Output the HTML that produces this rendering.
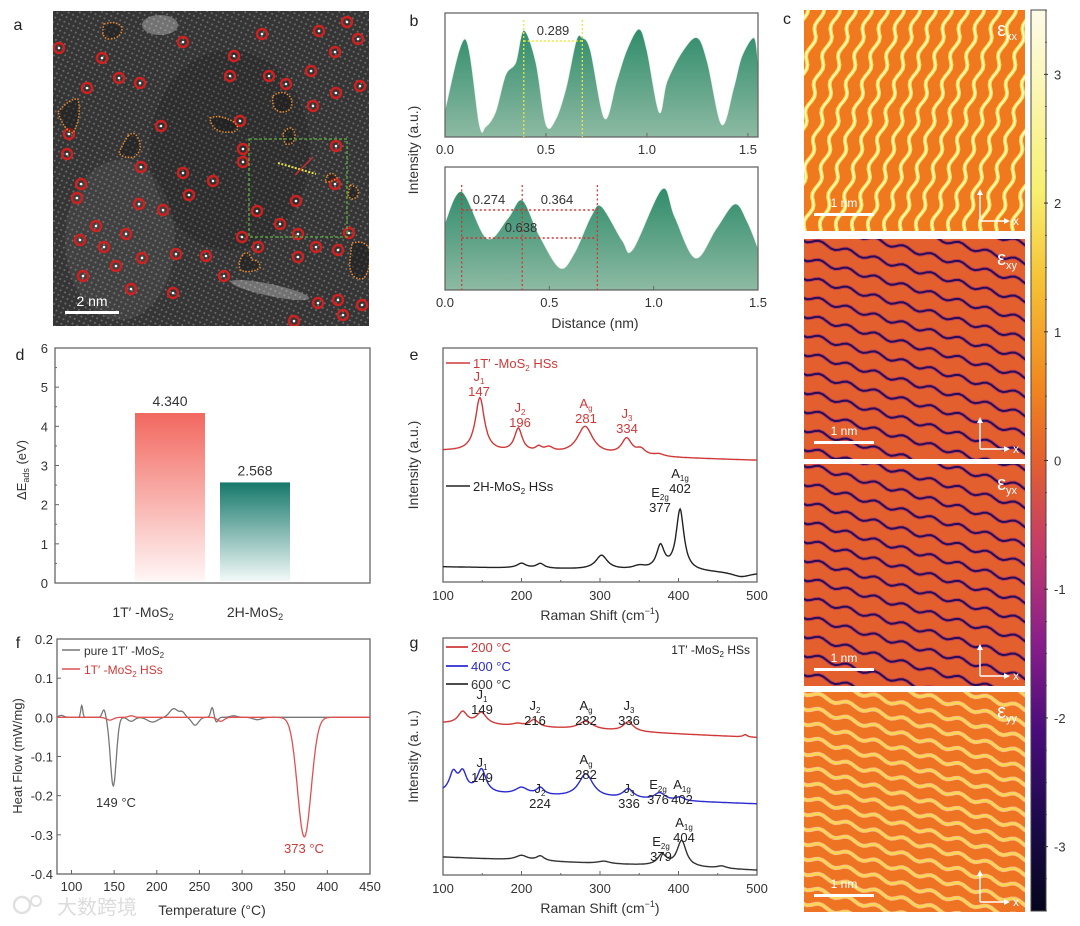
<!DOCTYPE html>
<html><head><meta charset="utf-8">
<style>
html,body{margin:0;padding:0;background:#fff;overflow:hidden;width:1080px;height:926px;}
svg{display:block;font-family:"Liberation Sans","Noto Sans CJK SC",sans-serif;}
</style></head>
<body>
<svg id="fig" width="1080" height="926" viewBox="0 0 1080 926" xmlns="http://www.w3.org/2000/svg">
<defs>
  <linearGradient id="gGreen" x1="0" y1="0" x2="0" y2="1">
    <stop offset="0" stop-color="#2f8c6b"/><stop offset="1" stop-color="#8dbaa3"/>
  </linearGradient>
  <linearGradient id="gRed" x1="0" y1="0" x2="0" y2="1">
    <stop offset="0" stop-color="#f2685f"/><stop offset="1" stop-color="#fff6f6"/>
  </linearGradient>
  <linearGradient id="gTeal" x1="0" y1="0" x2="0" y2="1">
    <stop offset="0" stop-color="#16786a"/><stop offset="1" stop-color="#f2f9f8"/>
  </linearGradient>
  <linearGradient id="gCbar" x1="0" y1="0" x2="0" y2="1">
    <stop offset="0" stop-color="#fdfbe8"/>
    <stop offset="0.2" stop-color="#f8f070"/>
    <stop offset="0.3" stop-color="#f6c235"/>
    <stop offset="0.42" stop-color="#f1851f"/>
    <stop offset="0.5" stop-color="#e4602e"/>
    <stop offset="0.6" stop-color="#c23a6c"/>
    <stop offset="0.7" stop-color="#8a1e8a"/>
    <stop offset="0.8" stop-color="#4a0c7c"/>
    <stop offset="0.9" stop-color="#1c0a4c"/>
    <stop offset="1" stop-color="#05051c"/>
  </linearGradient>
  <pattern id="dots" width="5" height="5" patternUnits="userSpaceOnUse" patternTransform="rotate(25)">
    <rect width="5" height="5" fill="#353535"/>
    <circle cx="2.5" cy="2.5" r="1" fill="#6c6c6c"/>
  </pattern>
  <clipPath id="clipA"><rect x="53" y="11" width="316" height="315"/></clipPath>
  <clipPath id="c1"><rect x="804" y="10" width="221" height="221"/></clipPath>
  <clipPath id="c2"><rect x="804" y="239" width="221" height="220"/></clipPath>
  <clipPath id="c3"><rect x="804" y="464" width="221" height="222"/></clipPath>
  <clipPath id="c4"><rect x="804" y="692" width="221" height="220"/></clipPath>
</defs>
<g id="root"></g>
</svg>
<script>
// ---------------- DATA ----------------
// panel b
var bTopX = [0,0.1,0.17,0.2,0.25,0.3,0.35,0.39,0.45,0.5,0.55,0.6,0.65,0.68,0.72,0.79,0.85,0.9,0.96,1.0,1.06,1.1,1.18,1.25,1.3,1.37,1.43,1.47,1.53,1.55];
var bTopY = [0.22,0.79,0.1,0.08,0.2,0.5,0.6,0.86,0.6,0.1,0.15,0.4,0.78,0.8,0.7,0.15,0.45,0.7,0.87,0.7,0.2,0.45,0.7,0.8,0.6,0.1,0.4,0.65,0.8,0.6];
var bBotX = [0,0.08,0.2,0.3,0.37,0.45,0.55,0.62,0.7,0.75,0.85,0.9,1.04,1.1,1.2,1.3,1.39,1.45,1.5];
var bBotY = [0.55,0.80,0.42,0.58,0.73,0.45,0.18,0.3,0.6,0.68,0.4,0.33,0.82,0.6,0.26,0.5,0.7,0.55,0.34];
var bTopTicks = [0,0.5,1.0,1.5];
var bTopTickLabels = ["0.0","0.5","1.0","1.5"];
var bBotTicks = [0,0.5,1.0,1.5];
// panel d
var dCats = ["1T\u2032 -MoS2","2H-MoS2"];
var dVals = [4.340,2.568];
var dTicks = [0,1,2,3,4,5,6];
// panel e  (peak positions, amplitudes, widths)
var eRedPos = [147,196,222,235,281,334,352,375];
var eRedAmp = [0.23,0.10,0.02,0.02,0.12,0.07,0.025,0.01];
var eRedWid = [7,6,5,7,12,8,7,8];
var eRedBase = [0.56,0.52];
var eBlkPos = [200,224,302,350,377,402,480];
var eBlkAmp = [0.02,0.02,0.06,0.015,0.10,0.26,-0.02];
var eBlkWid = [7,6,9,10,6,6,15];
var eBlkBase = [0.065,0.04];
// panel g
var gRedPos = [125,149,195,216,282,336,485];
var gRedAmp = [0.05,0.05,0.01,0.03,0.035,0.04,0.01];
var gRedWid = [7,8,8,7,11,8,3];
var gRedBase = [0.64,0.58];
var gBluPos = [113,125,149,200,224,282,336,376,402];
var gBluAmp = [0.08,0.08,0.10,0.03,0.03,0.10,0.04,0.03,0.015];
var gBluWid = [6,6,7,10,6,11,8,8,6];
var gBluBase = [0.346,0.30];
var gBlkPos = [200,224,305,379,404,455];
var gBlkAmp = [0.02,0.02,0.01,0.045,0.11,0.01];
var gBlkWid = [9,6,9,7,7,7];
var gBlkBase = [0.076,0.02];
var ramanTicks = [100,200,300,400,500];
// panel f (gaussian features)
var fGrayPos = [88,112,138,149,170,195,220,230,245,265,270,290,318];
var fGrayAmp = [0.005,0.03,0.02,-0.175,-0.01,-0.012,0.022,0.012,-0.02,0.025,-0.012,0.004,-0.006];
var fGrayWid = [3,1.2,2,3.5,4,6,5,3,4,1.8,2,4,5];
var fRedPos = [145,170,275,373];
var fRedAmp = [-0.007,0.004,-0.01,-0.305];
var fRedWid = [4,3,4,8];
var fXTicks = [100,150,200,250,300,350,400,450];
var fYTicks = [0.2,0.1,0.0,-0.1,-0.2,-0.3,-0.4];
var fYTickLabels = ["0.2","0.1","0.0","-0.1","-0.2","-0.3","-0.4"];
// colorbar
var cbTicks = [3,2,1,0,-1,-2,-3];

// ---------------- HELPERS ----------------
var NS="http://www.w3.org/2000/svg";
var root=document.getElementById('root');
function mk(tag,attrs,parent,text){var e=document.createElementNS(NS,tag);for(var k in attrs)e.setAttribute(k,attrs[k]);if(text!==undefined)e.textContent=text;(parent||root).appendChild(e);return e;}
function lin(d0,d1,r0,r1){return function(v){return r0+(v-d0)/(d1-d0)*(r1-r0);};}
function grp(name){var g=mk('g',{});return g;}
function txt(g,x,y,s,opt){opt=opt||{};var t=mk('text',{x:x,y:y,'font-size':opt.fs||13,fill:opt.fill||'#333','text-anchor':opt.anchor||'middle'},g,s);if(opt.tr)t.setAttribute('transform',opt.tr);return t;}
function box(g,x,y,w,h){var r=mk('rect',{x:x,y:y,width:w,height:h,fill:'none',stroke:'#666','stroke-width':1.3},g);}
function spec(pos,amp,wid,base,x){var b=base[0]+(base[1]-base[0])*(x-100)/400;for(var i=0;i<pos.length;i++){var d=(x-pos[i])/wid[i];b+=amp[i]/(1+d*d);}return b;}
function gsum(pos,amp,wid,x){var b=0;for(var i=0;i<pos.length;i++){var d=(x-pos[i])/wid[i];b+=amp[i]*Math.exp(-0.5*d*d);}return b;}
function panelLetter(x,y,s){txt(root,x,y,s,{fs:16,fill:'#222',name:'panel-label-'+s});}
function smoothPath(pts){ // catmull-rom
  var d='M'+pts[0][0].toFixed(1)+','+pts[0][1].toFixed(1);
  for(var i=0;i<pts.length-1;i++){
    var p0=pts[i-1]||pts[i],p1=pts[i],p2=pts[i+1],p3=pts[i+2]||p2;
    var c1x=p1[0]+(p2[0]-p0[0])/6,c1y=p1[1]+(p2[1]-p0[1])/6,c2x=p2[0]-(p3[0]-p1[0])/6,c2y=p2[1]-(p3[1]-p1[1])/6;
    d+=' C'+c1x.toFixed(1)+','+c1y.toFixed(1)+' '+c2x.toFixed(1)+','+c2y.toFixed(1)+' '+p2[0].toFixed(1)+','+p2[1].toFixed(1);
  }
  return d;
}

// ---------------- PANEL A ----------------
(function(){
var g=grp('panel-a-micrograph');
mk('rect',{x:53,y:11,width:316,height:315,fill:'url(#dots)'},g);
var shade=mk('g',{'clip-path':'url(#clipA)'},g);
mk('ellipse',{cx:120,cy:240,rx:55,ry:80,fill:'#9a9a9a',opacity:0.12},shade);
mk('ellipse',{cx:160,cy:25,rx:18,ry:10,fill:'#fff',opacity:0.3},shade);
mk('ellipse',{cx:270,cy:290,rx:40,ry:6,fill:'#fff',opacity:0.3,transform:'rotate(12 270 290)'},shade);
mk('ellipse',{cx:230,cy:150,rx:80,ry:100,fill:'#111',opacity:0.18},shade);
var circ=[[59,48],[102,58],[183,42],[262,34],[319,31],[347,22],[358,39],[335,52],[234,56],[230,76],[269,76],[286,84],[311,71],[360,86],[336,93],[313,106],[119,78],[140,83],[87,88],[240,121],[161,126],[69,134],[67,154],[243,149],[243,162],[336,146],[141,167],[183,173],[213,181],[335,184],[81,184],[77,198],[189,195],[139,204],[163,210],[296,201],[257,211],[280,224],[298,234],[242,237],[349,233],[96,226],[126,234],[80,240],[104,247],[258,247],[316,247],[338,250],[176,254],[142,258],[206,256],[298,257],[116,266],[83,276],[224,276],[131,289],[173,293],[318,303],[338,300],[362,305],[343,315],[294,321]];
circ.forEach(function(c){var e=mk('circle',{cx:c[0],cy:c[1],r:5,fill:'none',stroke:'#d02020','stroke-width':2.4},shade);mk('circle',{cx:c[0],cy:c[1],r:1.3,fill:'#fff'},shade);});
var blobs=["M104,24 q14,-4 18,4 q0,10 -12,11 q-10,0 -6,-15z","M58,112 q12,-14 20,-13 q4,18 -5,34 q-10,-4 -15,-21z","M128,136 q6,-6 10,2 q6,12 -4,19 q-10,2 -15,-4 q2,-6 9,-17z","M210,118 q10,-4 24,4 q8,8 -2,10 q-20,2 -22,-14z","M273,96 q10,-8 18,2 q4,14 -10,14 q-10,-2 -8,-16z","M283,134 q8,-12 12,0 q0,12 -10,10z","M327,176 q6,-6 10,2 q-4,4 -12,4z","M350,185 q10,2 8,10 q-6,8 -10,0z","M242,256 q6,-8 10,4 q8,0 8,8 q-10,6 -20,2 q-2,-8 2,-14z","M352,243 q16,-4 18,10 q0,22 -8,26 q-14,0 -12,-20z"];
blobs.forEach(function(d){var p=mk('path',{d:d,fill:'#141414','fill-opacity':0.4,stroke:'#e88a30','stroke-width':1.5,'stroke-dasharray':'1.5 1.5'},shade);});
var sq=mk('rect',{x:249,y:139,width:98,height:98,fill:'none',stroke:'#5fb040','stroke-width':1.3,'stroke-dasharray':'3 2'},g);
mk('line',{x1:278,y1:163,x2:316,y2:174,stroke:'#e8e040','stroke-width':2,'stroke-dasharray':'2 1.5'},g);
mk('line',{x1:295,y1:175,x2:313,y2:157,stroke:'#c03030','stroke-width':1.5},g);
var sb=mk('rect',{x:65,y:311,width:54,height:3,fill:'#fff'},g);
txt(g,92,306,'2 nm',{fs:14,fill:'#fff',name:'scale-bar-label'});
panelLetter(18,30,'a');
})();

// ---------------- PANEL B ----------------
(function(){
var g=grp('panel-b-profiles');
var L=445,R=758;
function prof(X,Y,top,bot,dmax,name){
  var sx=lin(0,dmax,L,R),sy=lin(0,1,bot,top);
  var pts=[];for(var i=0;i<X.length;i++)pts.push([sx(X[i]),sy(Y[i])]);
  var d=smoothPath(pts)+' L'+sx(X[X.length-1]).toFixed(1)+','+bot+' L'+sx(X[0])+','+bot+'Z';
  var p=mk('path',{d:d,fill:'url(#gGreen)',stroke:'#e8f0ec','stroke-width':0.8},g);
  
  return sx;
}
var sx1=prof(bTopX,bTopY,13,137,1.55,'profile-top-area');
box(g,L,13,R-L,124);
bTopTicks.forEach(function(t,i){mk('line',{x1:sx1(t),y1:137,x2:sx1(t),y2:133,stroke:'#666'},g);txt(g,sx1(t),154,bTopTickLabels[i],{name:'x-tick-label'});});
mk('line',{x1:sx1(0.39),y1:20,x2:sx1(0.39),y2:137,stroke:'#e8e840','stroke-width':1.3,'stroke-dasharray':'2 2'},g);
mk('line',{x1:sx1(0.68),y1:20,x2:sx1(0.68),y2:137,stroke:'#e8e840','stroke-width':1.3,'stroke-dasharray':'2 2'},g);
mk('line',{x1:sx1(0.39),y1:41,x2:sx1(0.68),y2:41,stroke:'#e8e840','stroke-width':1.5,'stroke-dasharray':'2 2'},g);
txt(g,(sx1(0.39)+sx1(0.68))/2,35,'0.289',{name:'distance-label'});
var sx2=prof(bBotX,bBotY,167,290,1.5,'profile-bottom-area');
box(g,L,167,R-L,123);
bBotTicks.forEach(function(t,i){mk('line',{x1:sx2(t),y1:290,x2:sx2(t),y2:286,stroke:'#666'},g);txt(g,sx2(t),307,bTopTickLabels[i],{name:'x-tick-label'});});
[0.08,0.37,0.73].forEach(function(v){mk('line',{x1:sx2(v),y1:185,x2:sx2(v),y2:290,stroke:'#d03030','stroke-width':1.2,'stroke-dasharray':'2 2.5'},g);});
mk('line',{x1:sx2(0.08),y1:210,x2:sx2(0.73),y2:210,stroke:'#d03030','stroke-width':1.5,'stroke-dasharray':'2 2.5'},g);
mk('line',{x1:sx2(0.08),y1:238,x2:sx2(0.73),y2:238,stroke:'#d03030','stroke-width':1.5,'stroke-dasharray':'2 2.5'},g);
txt(g,489,204,'0.274',{name:'distance-label'});
txt(g,557,204,'0.364',{name:'distance-label'});
txt(g,521,232,'0.638',{name:'distance-label'});
txt(g,595,328,'Distance (nm)',{fs:14,name:'x-axis-title'});
txt(g,418,150,'Intensity (a.u.)',{fs:14,tr:'rotate(-90 418 150)',name:'y-axis-title'});
panelLetter(414,26,'b');
})();

// ---------------- PANEL C ----------------
(function(){
var panels=[
 {y:10,h:221,clip:'c1',bg:'#f0781f',col:'#fbe04a',col2:'#fffbe0',mode:'v',lab:'\u03b5',sub:'xx',name:'strain-map-exx'},
 {y:239,h:220,clip:'c2',bg:'#e35f2e',col:'#2a0c55',col2:'#a8306e',mode:'h',lab:'\u03b5',sub:'xy',name:'strain-map-exy'},
 {y:464,h:222,clip:'c3',bg:'#e35f2e',col:'#2a0c55',col2:'#a8306e',mode:'h',lab:'\u03b5',sub:'yx',name:'strain-map-eyx'},
 {y:692,h:220,clip:'c4',bg:'#ee7424',col:'#fbd650',col2:'#fff6c8',mode:'h',lab:'\u03b5',sub:'yy',name:'strain-map-eyy'}];
var x0=804,w=221;
panels.forEach(function(p){
  var g=grp(p.name);
  mk('rect',{x:x0,y:p.y,width:w,height:p.h,fill:p.bg},g);
  var c=mk('g',{'clip-path':'url(#'+p.clip+')'},g);
  var i,d,k;
  if(p.mode==='v'){
    for(i=-4;i<18;i++){
      d='';var bx=x0+i*16;
      for(k=0;k<=60;k++){var yy=p.y-5+k*4;var xx=bx-0.3*(yy-p.y)+50+2.5*Math.sin(k*0.9);d+=(k?' L':'M')+xx.toFixed(1)+','+yy;}
      mk('path',{d:d,fill:'none',stroke:p.col,'stroke-width':4,'stroke-linejoin':'round'},c);
      mk('path',{d:d,fill:'none',stroke:p.col2,'stroke-width':1.4},c);
    }
  } else {
    var sp=p.mode==='h'&&p.col==='#2a0c55'?19:15;
    for(i=-5;i<16;i++){
      d='';var by=p.y+i*sp;
      for(k=0;k<=60;k++){var xx2=x0-5+k*4;var yy2=by+0.28*(xx2-x0)+2.5*Math.sin(k*0.9);d+=(k?' L':'M')+xx2.toFixed(1)+','+yy2.toFixed(1);}
      mk('path',{d:d,fill:'none',stroke:p.col2,'stroke-width':4,'stroke-linejoin':'round',opacity:0.6},c);
      mk('path',{d:d,fill:'none',stroke:p.col,'stroke-width':2},c);
    }
  }
  var t=mk('text',{x:x0+w-8,y:p.y+26,'font-size':20,fill:'#fff','text-anchor':'end'},g);
  
  mk('tspan',{},t,p.lab);mk('tspan',{'font-size':11,dy:4},t,p.sub);
  var sb=mk('rect',{x:x0+10,y:p.y+p.h-18,width:60,height:3,fill:'#fff'},g);
  txt(g,x0+40,p.y+p.h-24,'1 nm',{fs:12,fill:'#fff',name:'scale-bar-label'});
  var ax=x0+w-45,ay=p.y+p.h-10;
  mk('path',{d:'M'+ax+','+ay+' L'+ax+','+(ay-30)+' M'+ax+','+ay+' L'+(ax+28)+','+ay,stroke:'#fff','stroke-width':1.4,fill:'none'},g);
  mk('path',{d:'M'+(ax-3)+','+(ay-26)+' L'+ax+','+(ay-32)+' L'+(ax+3)+','+(ay-26)+'Z M'+(ax+24)+','+(ay-3)+' L'+(ax+30)+','+ay+' L'+(ax+24)+','+(ay+3)+'Z',fill:'#fff'},g);
  txt(g,ax+36,ay+4,'x',{fs:12,fill:'#fff',name:'axis-arrow-label'});
});
var g=grp('colorbar');
mk('rect',{x:1031,y:10,width:15,height:901,fill:'url(#gCbar)',stroke:'#444','stroke-width':1},g);
var cy=lin(3.5,-3.5,10,911);
cbTicks.forEach(function(t){mk('line',{x1:1044,y1:cy(t),x2:1048,y2:cy(t),stroke:'#333'},g);txt(g,1054,cy(t)+5,String(t),{fs:13,anchor:'start',name:'colorbar-tick-label'});});
for(var v=-3.5;v<=3.5;v+=0.25){mk('line',{x1:1045,y1:cy(v),x2:1047,y2:cy(v),stroke:'#333','stroke-width':0.6},g);}
panelLetter(787,24,'c');
})();

// ---------------- PANEL D ----------------
(function(){
var g=grp('panel-d-bar-chart');
var L=55,R=370,T=348,B=583;
var sy=lin(0,6,B,T);
box(g,L,T,R-L,B-T);
dTicks.forEach(function(t){mk('line',{x1:L,y1:sy(t),x2:L+4,y2:sy(t),stroke:'#666'},g);txt(g,L-7,sy(t)+5,String(t),{anchor:'end',name:'y-tick-label'});
 if(t<6){mk('line',{x1:L,y1:sy(t+0.5),x2:L+2,y2:sy(t+0.5),stroke:'#666'},g);}});
var bx=[135,220],bw=70,fills=['url(#gRed)','url(#gTeal)'];
dVals.forEach(function(v,i){
  var r=mk('rect',{x:bx[i],y:sy(v),width:bw,height:B-2-sy(v),fill:fills[i]},g);
  
  txt(g,bx[i]+bw/2,sy(v)-7,v.toFixed(3),{fs:14,name:'bar-value-label'});
});
var l1=txt(g,143,617,'',{fs:14,name:'x-category-label'});
mk('tspan',{},l1,'1T\u2032 -MoS');mk('tspan',{'font-size':9,dy:3},l1,'2');
var l2=txt(g,255,617,'',{fs:14,name:'x-category-label'});
mk('tspan',{},l2,'2H-MoS');mk('tspan',{'font-size':9,dy:3},l2,'2');
var yt=txt(g,26,470,'',{fs:13,tr:'rotate(-90 26 470)',name:'y-axis-title'});
mk('tspan',{},yt,'\u0394E');mk('tspan',{'font-size':9,dy:3},yt,'ads');mk('tspan',{dy:-3},yt,' (eV)');
panelLetter(20,360,'d');
})();

// ---------------- RAMAN helper ----------------
function ramanPanel(name,T,B,series,letter,letterY){
var g=grp(name);
var L=443,R=757;
var sx=lin(100,500,L,R),sy=lin(0,1,B,T);
box(g,L,T,R-L,B-T);
ramanTicks.forEach(function(t){mk('line',{x1:sx(t),y1:B,x2:sx(t),y2:B-4,stroke:'#666'},g);txt(g,sx(t),B+18,String(t),{name:'x-tick-label'});
 if(t<500)mk('line',{x1:sx(t+50),y1:B,x2:sx(t+50),y2:B-2,stroke:'#666'},g);});
series.forEach(function(s){
  var d='';for(var x=100;x<=500;x+=1){d+=(x>100?' L':'M')+sx(x).toFixed(1)+','+sy(spec(s.pos,s.amp,s.wid,s.base,x)).toFixed(1);}
  var p=mk('path',{d:d,fill:'none',stroke:s.col,'stroke-width':1.4},g);
  
});
var xt=txt(g,600,B+38,'',{fs:14,name:'x-axis-title'});
mk('tspan',{},xt,'Raman Shift (cm');mk('tspan',{'font-size':9,dy:-6},xt,'\u22121');mk('tspan',{dy:6},xt,')');
txt(g,418,(T+B)/2,letter==='g'?'Intensity (a. u.)':'Intensity (a.u.)',{fs:14,tr:'rotate(-90 418 '+((T+B)/2)+')',name:'y-axis-title'});
panelLetter(414,letterY,letter);
return {g:g,sx:sx,sy:sy};
}
function peakLab(g,x,y,top,sub,num,col){
  var t=txt(g,x,y,'',{fs:13,fill:col,name:'peak-label'});
  mk('tspan',{},t,top);if(sub)mk('tspan',{'font-size':8,dy:3},t,sub);
  txt(g,x,y+15,num,{fs:13,fill:col,name:'peak-value'});
}
// panel e
(function(){
var r=ramanPanel('panel-e-raman',348,582,[
 {pos:eRedPos,amp:eRedAmp,wid:eRedWid,base:eRedBase,col:'#d03838',name:'series-1t-raman'},
 {pos:eBlkPos,amp:eBlkAmp,wid:eBlkWid,base:eBlkBase,col:'#222',name:'series-2h-raman'}],'e',360);
var g=r.g,red='#d03838';
mk('line',{x1:446,y1:363,x2:470,y2:363,stroke:red,'stroke-width':1.5},g);
var l=txt(g,473,368,'',{fs:13,fill:red,anchor:'start',name:'legend-1t'});mk('tspan',{},l,'1T\u2032 -MoS');mk('tspan',{'font-size':8,dy:3},l,'2');mk('tspan',{dy:-3},l,' HSs');
mk('line',{x1:446,y1:486,x2:470,y2:486,stroke:'#222','stroke-width':1.5},g);
var l2=txt(g,473,491,'',{fs:13,fill:'#222',anchor:'start',name:'legend-2h'});mk('tspan',{},l2,'2H-MoS');mk('tspan',{'font-size':8,dy:3},l2,'2');mk('tspan',{dy:-3},l2,' HSs');
peakLab(g,479,381,'J','1','147',red);peakLab(g,520,412,'J','2','196',red);
peakLab(g,586,408,'A','g','281',red);peakLab(g,627,418,'J','3','334',red);
peakLab(g,660,497,'E','2g','377','#222');peakLab(g,680,478,'A','1g','402','#222');
})();
// panel g
(function(){
var r=ramanPanel('panel-g-raman',638,875,[
 {pos:gRedPos,amp:gRedAmp,wid:gRedWid,base:gRedBase,col:'#d03838',name:'series-200c'},
 {pos:gBluPos,amp:gBluAmp,wid:gBluWid,base:gBluBase,col:'#2a2ad0',name:'series-400c'},
 {pos:gBlkPos,amp:gBlkAmp,wid:gBlkWid,base:gBlkBase,col:'#333',name:'series-600c'}],'g',648);
var g=r.g;
var leg=[['200 \u00b0C','#d03838',647],['400 \u00b0C','#2a2ad0',666],['600 \u00b0C','#333',684]];
leg.forEach(function(l){mk('line',{x1:446,y1:l[2],x2:468,y2:l[2],stroke:l[1],'stroke-width':1.8},g);txt(g,471,l[2]+5,l[0],{fs:13,fill:l[1],anchor:'start',name:'legend-entry'});});
var tt=txt(g,750,654,'',{fs:12,fill:'#222',anchor:'end',name:'panel-annotation'});mk('tspan',{},tt,'1T\u2032 -MoS');mk('tspan',{'font-size':8,dy:3},tt,'2');mk('tspan',{dy:-3},tt,' HSs');
var k='#222';
peakLab(g,482,699,'J','1','149',k);peakLab(g,535,710,'J','2','216',k);peakLab(g,586,710,'A','g','282',k);peakLab(g,629,710,'J','3','336',k);
peakLab(g,482,767,'J','1','149',k);peakLab(g,540,793,'J','2','224',k);peakLab(g,586,764,'A','g','282',k);peakLab(g,629,793,'J','3','336',k);
peakLab(g,658,789,'E','2g','376',k);peakLab(g,682,789,'A','1g','402',k);
peakLab(g,661,846,'E','2g','379',k);peakLab(g,684,827,'A','1g','404',k);
})();

// ---------------- PANEL F ----------------
(function(){
var g=grp('panel-f-dsc');
var L=57,R=370,T=639,B=874;
var sx=lin(83,450,L,R),sy=lin(-0.4,0.2,B,T);
box(g,L,T,R-L,B-T);
fXTicks.forEach(function(t){mk('line',{x1:sx(t),y1:B,x2:sx(t),y2:B-4,stroke:'#666'},g);txt(g,sx(t),B+17,String(t),{name:'x-tick-label'});});
fYTicks.forEach(function(t,i){mk('line',{x1:L,y1:sy(t),x2:L+4,y2:sy(t),stroke:'#666'},g);txt(g,L-4,sy(t)+5,fYTickLabels[i],{anchor:'end',name:'y-tick-label'});});
function line(pos,amp,wid,col,name){var d='';for(var x=83;x<=450;x+=0.5){d+=(x>83?' L':'M')+sx(x).toFixed(1)+','+sy(gsum(pos,amp,wid,x)).toFixed(1);}
 var p=mk('path',{d:d,fill:'none',stroke:col,'stroke-width':1.3},g);}
line(fGrayPos,fGrayAmp,fGrayWid,'#777','series-pure-1t');
line(fRedPos,fRedAmp,fRedWid,'#e05050','series-1t-hss');
mk('line',{x1:62,y1:650,x2:80,y2:650,stroke:'#777','stroke-width':1.5},g);
var l1=txt(g,84,655,'',{fs:12,fill:'#333',anchor:'start',name:'legend-pure'});mk('tspan',{},l1,'pure 1T\u2032 -MoS');mk('tspan',{'font-size':8,dy:3},l1,'2');
mk('line',{x1:62,y1:669,x2:80,y2:669,stroke:'#e05050','stroke-width':1.5},g);
var l2=txt(g,84,674,'',{fs:12,fill:'#d03838',anchor:'start',name:'legend-hss'});mk('tspan',{},l2,'1T\u2032 -MoS');mk('tspan',{'font-size':8,dy:3},l2,'2');mk('tspan',{dy:-3},l2,' HSs');
txt(g,116,807,'149 \u00b0C',{fs:13,name:'peak-annotation'});
txt(g,304,853,'373 \u00b0C',{fs:13,fill:'#d03838',name:'peak-annotation'});
txt(g,212,915,'Temperature (\u00b0C)',{fs:14,name:'x-axis-title'});
txt(g,22,756,'Heat Flow (mW/mg)',{fs:13,tr:'rotate(-90 22 756)',name:'y-axis-title'});
panelLetter(18,648,'f');
})();
// watermark
(function(){
var g=grp('watermark');
mk('circle',{cx:22,cy:905,r:8,fill:'none',stroke:'#e0e0e0','stroke-width':2.5},g);
mk('circle',{cx:36,cy:901,r:5,fill:'none',stroke:'#e0e0e0','stroke-width':2},g);
txt(g,57,914,'大数跨境',{fs:20,fill:'#dcdcdc',anchor:'start',name:'watermark-text'});
})();
</script>
</body></html>
